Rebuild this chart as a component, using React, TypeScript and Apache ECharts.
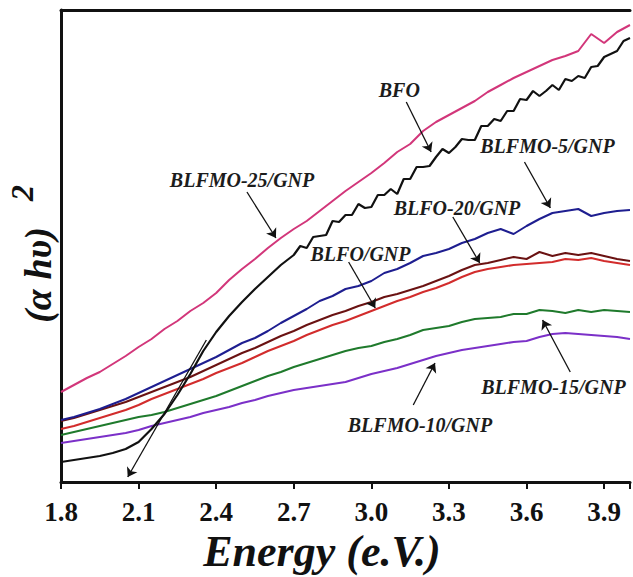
import React, { useEffect, useRef } from "react";
import * as echarts from "echarts";

// Photon energy (eV) shared by the smooth samples
const energy = [1.80,1.85,1.90,1.95,2.00,2.05,2.10,2.15,2.20,2.25,2.30,2.35,2.40,2.45,2.50,2.55,2.60,2.65,2.70,2.75,2.80,2.85,2.90,2.95,3.00,3.05,3.10,3.15,3.20,3.25,3.30,3.35,3.40,3.45,3.50,3.55,3.60,3.65,3.70,3.75,3.80,3.85,3.90,3.95,4.00];
// BFO is noisier, sampled more finely above 2.7 eV
const bfoEnergy = [1.80,1.85,1.90,1.95,2.00,2.05,2.10,2.15,2.20,2.25,2.30,2.35,2.40,2.45,2.50,2.55,2.60,2.65,
  2.700,2.725,2.750,2.775,2.800,2.825,2.850,2.875,2.900,2.925,2.950,2.975,3.000,3.025,3.050,3.075,3.100,3.125,3.150,3.175,3.200,3.225,3.250,3.275,3.300,3.325,3.350,3.375,3.400,3.425,3.450,3.475,3.500,3.525,3.550,3.575,3.600,3.625,3.650,3.675,3.700,3.725,3.750,3.775,3.800,3.825,3.850,3.875,3.900,3.925,3.950,3.975,4.000];

// (αhυ)^2, arbitrary units
const bfo = [20,22,24,26,29,33,40,53,68,87,108,131,150,166,180,193,205,217,
  227,236,234,245,246,247,261,260,267,267,278,274,275,287,287,293,288,303,303,315,315,316,325,333,329,335,343,342,342,356,356,363,361,371,371,383,382,391,386,391,397,392,403,401,406,404,415,416,425,428,431,441,444];
const blfmo25 = [90,97,104,110,118,126,135,143,153,161,171,179,189,202,213,223,234,244,253,261,271,281,291,300,309,319,330,338,351,360,367,374,381,390,397,404,410,416,422,426,431,448,439,450,457];
const blfmo5 = [62,65,69,73,78,83,89,95,101,107,113,119,125,132,139,144,151,159,166,173,181,186,193,196,201,209,213,219,226,229,233,239,243,249,253,248,256,263,269,271,273,266,269,271,272];
const blfo20 = [61,64,68,72,76,80,85,90,95,100,105,111,117,123,129,134,140,146,151,157,162,167,171,176,180,185,188,192,196,201,206,212,217,219,222,225,223,230,226,229,227,229,226,223,221];
const blfo = [53,56,60,64,68,72,77,83,88,93,98,103,109,114,119,125,131,136,141,147,152,157,161,166,171,176,181,185,190,194,199,205,210,213,215,217,218,219,220,223,222,224,221,219,217];
const blfmo15 = [47,50,53,56,59,62,65,67,70,74,78,82,86,91,96,101,106,110,115,119,123,127,131,134,136,140,143,147,152,154,156,160,163,164,165,168,168,172,171,169,172,170,172,171,170];
const blfmo10 = [39,41,43,45,47,49,52,56,59,62,65,69,72,75,79,82,86,89,92,94,96,98,100,104,108,111,114,118,122,126,129,132,134,136,138,140,141,145,148,149,148,147,146,145,143];

const xTicks = [1.8, 2.1, 2.4, 2.7, 3.0, 3.3, 3.6, 3.9];

// Annotations (data coordinates)
const annotationLabels = ["BFO", "BLFMO-25/GNP", "BLFMO-5/GNP", "BLFO-20/GNP", "BLFO/GNP", "BLFMO-15/GNP", "BLFMO-10/GNP"];
const labelPos = [[3.108, 392], [2.5, 302], [3.681, 336], [3.331, 274], [2.958, 228], [3.704, 95], [3.188, 57]];
const arrowFrom = [[3.135, 380], [2.519, 290], [3.592, 320], [3.315, 265], [2.912, 220], [3.769, 110], [3.162, 77], [2.362, 142]];
const arrowTo = [[3.231, 330], [2.631, 244], [3.692, 274], [3.419, 219], [3.015, 174], [3.662, 162], [3.246, 119], [2.058, 5]];

const serif = '"Liberation Serif", "Times New Roman", serif';

const zip = (xs: number[], ys: number[]) => xs.map((x, i) => [x, ys[i]]);

export default function App() {
  const ref = useRef<HTMLDivElement>(null);
  useEffect(() => {
    if (!ref.current) return;
    const chart = echarts.init(ref.current, null, { renderer: "svg" });
    const line = (name: string, xs: number[], ys: number[], color: string, width = 2) => ({
      name,
      type: "line",
      data: zip(xs, ys),
      showSymbol: false,
      silent: true,
      lineStyle: { color, width },
      itemStyle: { color },
    });
    const series: any[] = [
      line("BLFMO-10/GNP", energy, blfmo10, "#7b30c8"),
      line("BLFMO-15/GNP", energy, blfmo15, "#1f7a2c"),
      line("BLFO/GNP", energy, blfo, "#d22c2c"),
      line("BLFO-20/GNP", energy, blfo20, "#6a1212"),
      line("BLFMO-5/GNP", energy, blfmo5, "#1e1e90"),
      line("BLFMO-25/GNP", energy, blfmo25, "#d2367a"),
      line("BFO", bfoEnergy, bfo, "#111111", 2.2),
    ];
    series[6].markLine = {
      silent: true,
      animation: false,
      symbol: ["none", "arrow"],
      symbolSize: 9,
      lineStyle: { color: "#111", width: 1.3, type: "solid" },
      label: { show: false },
      data: arrowFrom.map((f, i) => [{ coord: f }, { coord: arrowTo[i] }]),
    };
    const option: any = {
      animation: false,
      backgroundColor: "#ffffff",
      grid: { left: 61, right: 0, top: 10, bottom: 95, containLabel: false },
      xAxis: [
        {
          type: "value",
          min: 1.8,
          max: 4.0,
          interval: 0.3,
          axisLine: { show: true, lineStyle: { color: "#111", width: 3 } },
          axisTick: { show: true, inside: false, length: 7, lineStyle: { color: "#111", width: 2 } },
          axisLabel: {
            show: true,
            margin: 16,
            color: "#111",
            fontFamily: serif,
            fontWeight: "bold",
            fontSize: 27,
            formatter: (v: number) => (xTicks.some((t) => Math.abs(t - v) < 1e-6) ? v.toFixed(1) : ""),
          },
          splitLine: { show: false },
        },
        {
          type: "value",
          position: "top",
          min: 1.8,
          max: 4.0,
          axisLine: { show: true, lineStyle: { color: "#111", width: 3 } },
          axisTick: { show: false },
          axisLabel: { show: false },
          splitLine: { show: false },
        },
      ],
      yAxis: {
        type: "value",
        min: 0,
        max: 472,
        axisLine: { show: true, lineStyle: { color: "#111", width: 3 } },
        axisTick: { show: false },
        axisLabel: { show: false },
        splitLine: { show: false },
      },
      series,
    };
    chart.setOption(option);

    const texts = annotationLabels.map((t, i) => {
      const p = chart.convertToPixel({ seriesIndex: 6 }, labelPos[i]) as number[];
      return {
        type: "text",
        x: p[0],
        y: p[1],
        silent: true,
        style: {
          text: t,
          font: `italic bold 20px ${serif}`,
          fill: "#1c1c1c",
          textAlign: "center",
          textVerticalAlign: "middle",
        },
      };
    });
    chart.setOption({
      graphic: [
        {
          type: "text",
          x: 322,
          y: 551,
          silent: true,
          style: {
            text: "Energy (e.V.)",
            font: `italic bold 44px ${serif}`,
            fill: "#111",
            textAlign: "center",
            textVerticalAlign: "middle",
          },
        },
        {
          type: "text",
          x: 38,
          y: 275,
          rotation: Math.PI / 2,
          silent: true,
          style: {
            text: "(α hυ)",
            font: `italic bold 38px ${serif}`,
            fill: "#111",
            textAlign: "center",
            textVerticalAlign: "middle",
          },
        },
        {
          type: "text",
          x: 22,
          y: 193,
          rotation: Math.PI / 2,
          silent: true,
          style: {
            text: "2",
            font: `italic bold 32px ${serif}`,
            fill: "#111",
            textAlign: "center",
            textVerticalAlign: "middle",
          },
        },
        ...texts,
      ],
    });
    return () => chart.dispose();
  }, []);
  return (
    <div
      ref={ref}
      style={{ position: "absolute", left: 0, top: 0, width: 633, height: 577, background: "#fff" }}
    />
  );
}
